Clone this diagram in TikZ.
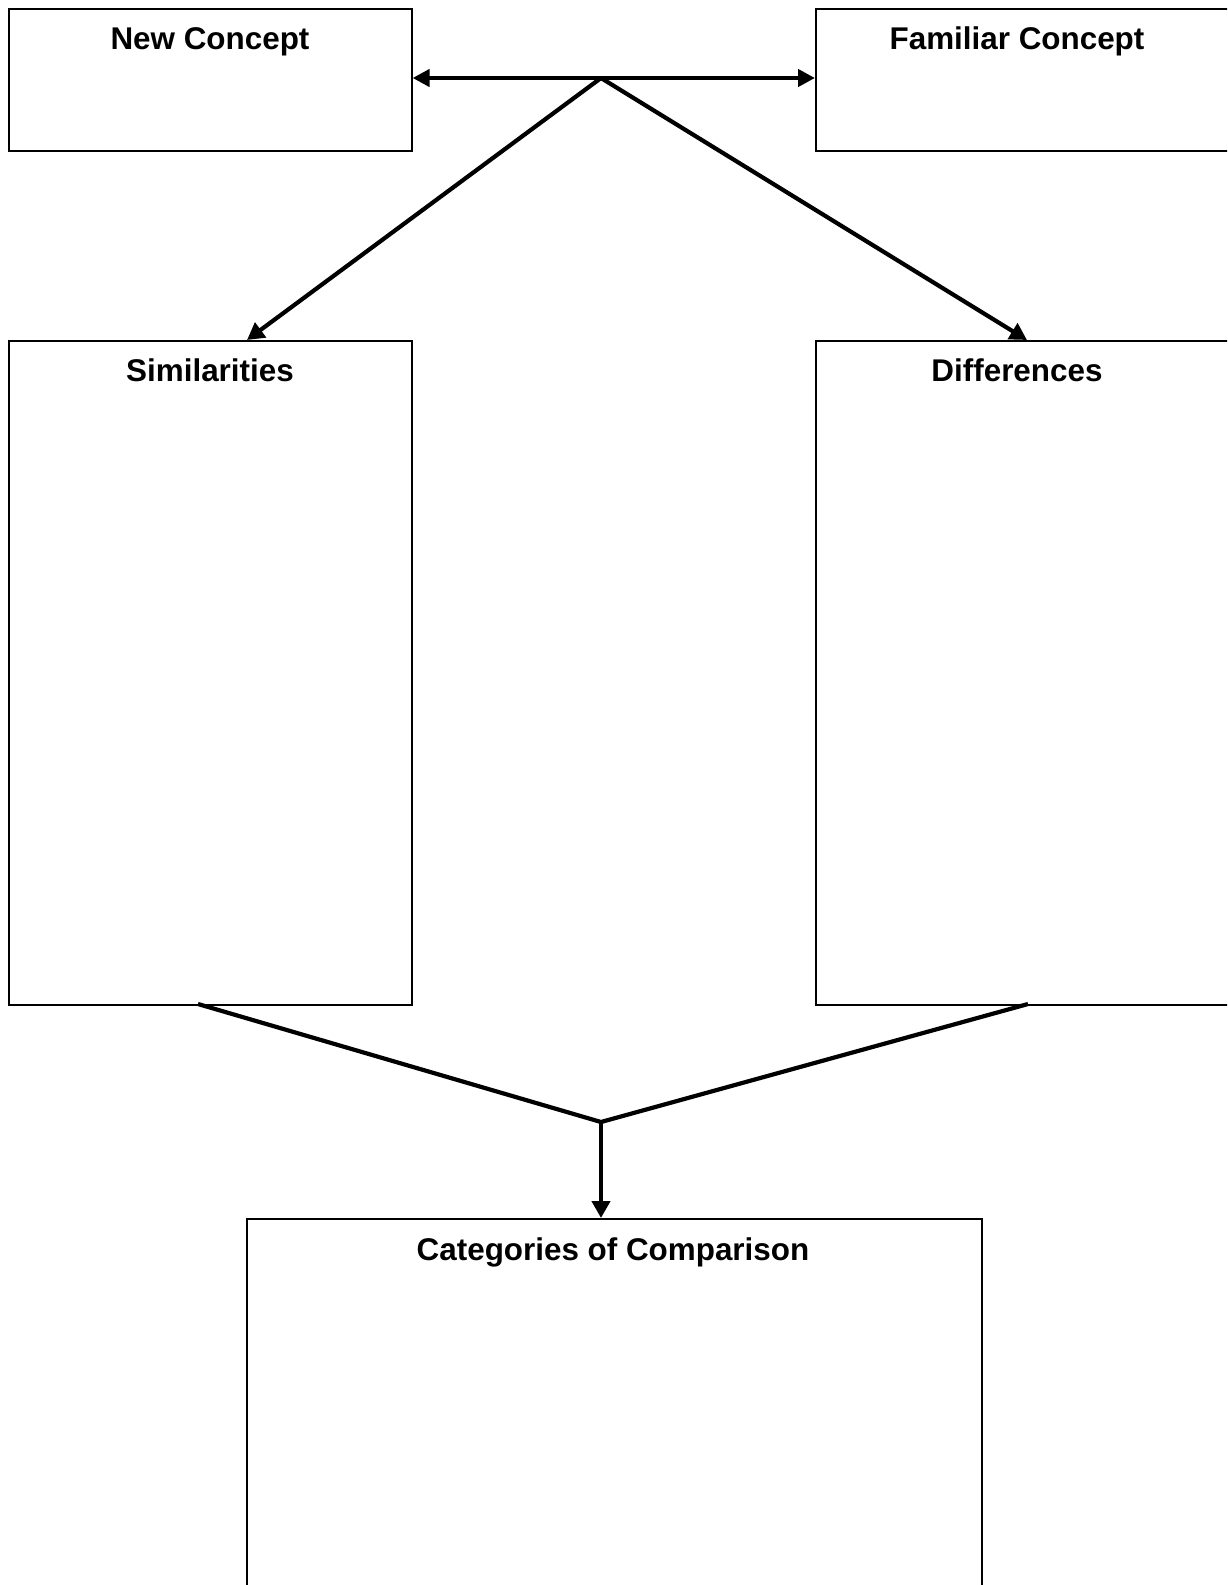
\documentclass[tikz,border=0pt]{standalone}
\usepackage{fontspec}
\setmainfont{Liberation Sans}
\usetikzlibrary{arrows.meta}
\begin{document}
\begin{tikzpicture}[x=1pt,y=-1pt,
  box/.style={draw=black,line width=1.6pt,rectangle,inner sep=0pt,anchor=north west},
  title/.style={font=\fontsize{31.4}{37}\selectfont\bfseries,anchor=base,inner sep=0pt},
  conn/.style={line width=4.2pt},
  tip/.style={-{Triangle[length=17pt,width=18pt]}}]
\useasboundingbox (0,0) rectangle (1227,1585);
\clip (0,0) rectangle (1227,1585);
\node[box,minimum width=403pt,minimum height=142pt] (new) at (8,8) {};
\node[box,minimum width=440pt,minimum height=142pt] (fam) at (815,8) {};
\node[box,minimum width=403pt,minimum height=664pt] (sim) at (8,340) {};
\node[box,minimum width=440pt,minimum height=664pt] (dif) at (815,340) {};
\node[box,minimum width=735pt,minimum height=420pt] (cat) at (246,1218) {};
\node[title] (tnew) at (210,49) {New Concept};
\node[title] (tfam) at (1017,49) {Familiar Concept};
\node[title] (tsim) at (210,381) {Similarities};
\node[title] (tdif) at (1017,381) {Differences};
\node[title] (tcat) at (613,1260) {Categories of Comparison};
\coordinate (top) at (601,78);
\coordinate (bot) at (601,1122);
\coordinate (sa) at (247,340);
\coordinate (da) at (1027,340);
\coordinate (sb) at (198,1004);
\coordinate (db) at (1028,1004);
\coordinate (ca) at (601,1218);
\draw[conn,{Triangle[length=17pt,width=17pt]}-{Triangle[length=17pt,width=17pt]}] (new.east |- top) -- (fam.west |- top);
\draw[conn,tip] (top) -- (sa);
\draw[conn,tip] (top) -- (da);
\draw[conn,line join=miter] (sb) -- (bot) -- (db);
\draw[conn,tip] (bot) -- (ca);
\end{tikzpicture}
\end{document}
